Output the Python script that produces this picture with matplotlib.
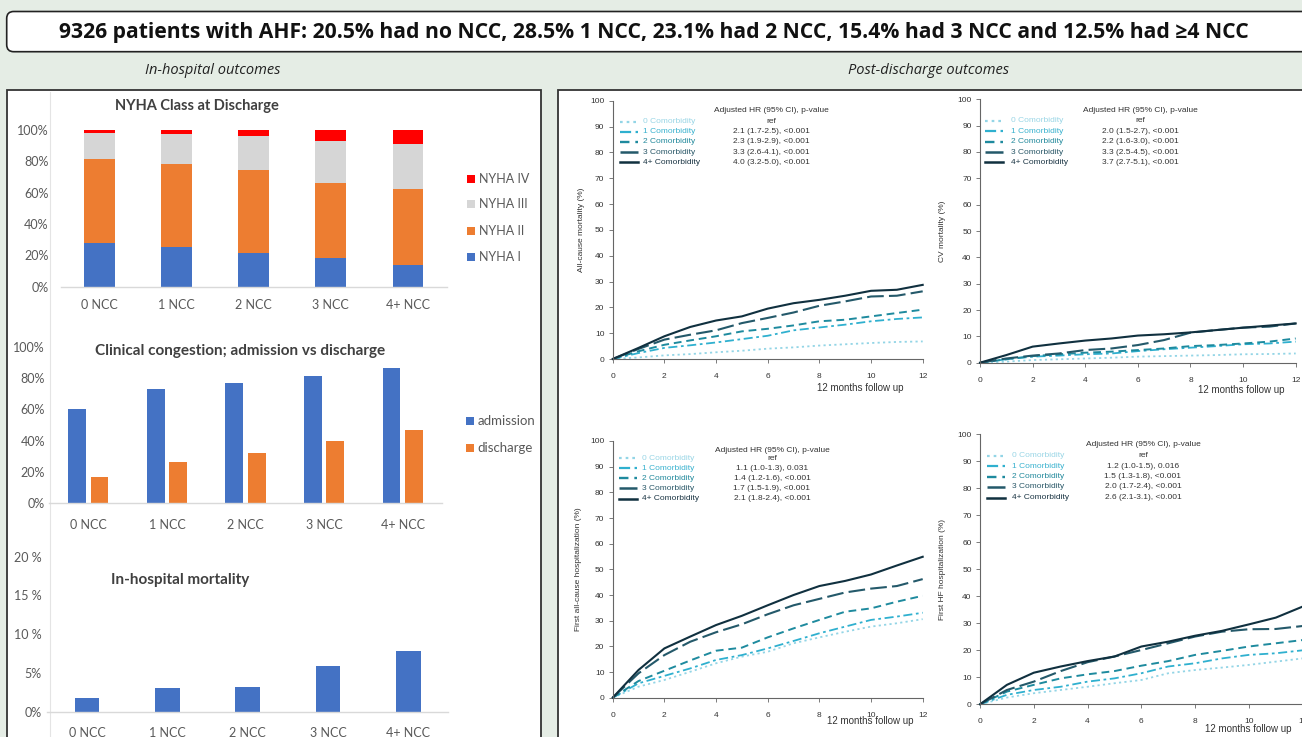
import numpy as np
import matplotlib
matplotlib.use('Agg')
import matplotlib.pyplot as plt
from matplotlib.patches import Rectangle, FancyBboxPatch
from matplotlib.lines import Line2D

W, H, DPI = 1302, 737, 100

# ------------------------------------------------------------------ data
title_text = ('9326 patients with AHF: 20.5% had no NCC, 28.5% 1 NCC, 23.1% had 2 NCC, '
              '15.4% had 3 NCC and 12.5% had \u22654 NCC')
ncc_labels = ['0 NCC', '1 NCC', '2 NCC', '3 NCC', '4+ NCC']

nyha_classes = ['NYHA I', 'NYHA II', 'NYHA III', 'NYHA IV']
nyha_I = [28.1, 25.1, 21.7, 18.1, 13.8]
nyha_II = [53.2, 53.0, 52.6, 48.3, 48.5]
nyha_III = [17.0, 19.3, 21.9, 26.8, 29.0]
nyha_IV = [1.7, 2.6, 3.8, 6.8, 8.7]

congestion_series = ['admission', 'discharge']
congestion_admission = [60.0, 72.8, 76.6, 81.1, 86.4]
congestion_discharge = [17.0, 26.4, 31.9, 40.0, 46.8]

inhosp_mortality = [1.8, 3.0, 3.2, 5.9, 7.8]

pct_ticks = [0, 20, 40, 60, 80, 100]
pct_ticklabels = ['0%', '20%', '40%', '60%', '80%', '100%']
mort_ticks = [0, 5, 10, 15, 20]
mort_ticklabels = ['0%', '5%', '10 %', '15 %', '20 %']

months = [0, 1, 2, 3, 4, 5, 6, 7, 8, 9, 10, 11, 12]
comorbidity_groups = ['0 Comorbidity', '1 Comorbidity', '2 Comorbidity',
                      '3 Comorbidity', '4+ Comorbidity']

# all-cause mortality (%)
acm_0 = [0, 0.6, 1.4, 1.9, 2.6, 3.2, 4.0, 4.5, 5.2, 5.7, 6.2, 6.6, 6.8]
acm_1 = [0, 2.3, 4.3, 5.3, 6.4, 7.7, 9.0, 11.1, 12.2, 13.3, 14.6, 15.5, 16.1]
acm_2 = [0, 3.0, 5.5, 7.2, 8.8, 10.7, 11.7, 13.0, 14.6, 15.2, 16.5, 17.8, 19.1]
acm_3 = [0, 3.9, 7.5, 9.4, 11.1, 13.9, 15.9, 18.0, 20.6, 22.3, 24.2, 24.5, 26.2]
acm_4 = [0, 4.3, 8.8, 12.4, 14.9, 16.5, 19.5, 21.6, 22.9, 24.5, 26.4, 26.8, 28.7]
acm_hr = ['ref', '2.1 (1.7-2.5), <0.001', '2.3 (1.9-2.9), <0.001',
          '3.3 (2.6-4.1), <0.001', '4.0 (3.2-5.0), <0.001']

# CV mortality (%)
cvm_0 = [0, 0.4, 1.0, 1.3, 1.6, 1.9, 2.3, 2.5, 2.7, 2.9, 3.2, 3.3, 3.5]
cvm_1 = [0, 1.3, 2.3, 2.7, 3.2, 3.5, 4.4, 5.1, 5.7, 6.3, 7.0, 7.3, 8.0]
cvm_2 = [0, 1.3, 2.5, 3.2, 3.8, 4.2, 4.8, 5.4, 6.3, 6.7, 7.3, 8.0, 9.2]
cvm_3 = [0, 1.6, 2.7, 3.5, 4.8, 5.4, 6.7, 8.6, 11.4, 12.4, 13.3, 13.7, 14.9]
cvm_4 = [0, 2.9, 6.1, 7.3, 8.4, 9.2, 10.3, 10.8, 11.5, 12.4, 13.3, 14.1, 14.9]
cvm_hr = ['ref', '2.0 (1.5-2.7), <0.001', '2.2 (1.6-3.0), <0.001',
          '3.3 (2.5-4.5), <0.001', '3.7 (2.7-5.1), <0.001']

# first all-cause hospitalization (%)
ach_0 = [0, 4.3, 6.9, 10.1, 13.4, 16.0, 17.9, 21.2, 23.5, 25.7, 27.7, 29.0, 30.6]
ach_1 = [0, 5.6, 8.5, 11.4, 14.7, 16.6, 19.2, 22.1, 25.1, 27.7, 30.3, 31.6, 33.1]
ach_2 = [0, 6.5, 10.5, 14.5, 18.3, 19.5, 23.5, 27.0, 30.3, 33.5, 34.8, 37.4, 39.7]
ach_3 = [0, 9.5, 16.6, 21.8, 25.5, 28.6, 32.5, 36.0, 38.5, 41.0, 42.5, 43.5, 46.2]
ach_4 = [0, 10.8, 19.2, 23.8, 28.3, 31.9, 36.0, 40.0, 43.5, 45.5, 48.0, 51.5, 54.9]
ach_hr = ['ref', '1.1 (1.0-1.3), 0.031', '1.4 (1.2-1.6), <0.001',
          '1.7 (1.5-1.9), <0.001', '2.1 (1.8-2.4), <0.001']

# first HF hospitalization (%)
hfh_0 = [0, 2.5, 4.1, 5.3, 6.5, 7.8, 9.0, 11.5, 12.7, 13.6, 14.6, 15.8, 17.0]
hfh_1 = [0, 3.5, 5.3, 6.5, 8.4, 9.6, 11.5, 14.0, 15.2, 17.0, 18.3, 18.9, 20.0]
hfh_2 = [0, 4.7, 7.2, 9.6, 11.1, 12.3, 14.3, 16.0, 18.3, 19.8, 21.4, 22.6, 23.8]
hfh_3 = [0, 5.3, 8.4, 12.3, 15.6, 17.7, 20.1, 22.6, 25.1, 26.9, 27.8, 27.9, 29.0]
hfh_4 = [0, 7.2, 11.7, 14.0, 16.0, 17.7, 21.4, 23.2, 25.4, 27.2, 29.6, 32.1, 36.2]
hfh_hr = ['ref', '1.2 (1.0-1.5), 0.016', '1.5 (1.3-1.8), <0.001',
          '2.0 (1.7-2.4), <0.001', '2.6 (2.1-3.1), <0.001']

# ------------------------------------------------------------------ style
BG = '#e5ede5'
XL_BLUE, XL_ORANGE, XL_GRAY, XL_RED = '#4472C4', '#ED7D31', '#D6D6D6', '#FF0000'
XL_TEXT = '#595959'
XL_TITLE = '#404040'
LFONT = 'Lato'
KFONT = 'Liberation Sans'

km_colors = ['#93d5e6', '#2fb0cf', '#1e8a9e', '#24596a', '#10303f']
km_text_colors = ['#9ad6e6', '#3ab2cf', '#22899c', '#2a5868', '#1b3544']
km_styles = [(0, (1.2, 1.8)), (0, (5, 2, 1.5, 2)), (0, (4, 2.5)), (0, (8, 2.5)), '-']
km_lw = [1.3, 1.3, 1.4, 1.5, 1.5]

fig = plt.figure(figsize=(W / DPI, H / DPI), dpi=DPI)
fig.patch.set_facecolor(BG)


def fbox(x0, y0, x1, y1):
    return [x0 / W, 1 - y1 / H, (x1 - x0) / W, (y1 - y0) / H]


def ftext(x, y, s, **kw):
    return fig.text(x / W, 1 - y / H, s, **kw)


def fline(x0, x1, y, **kw):
    fig.add_artist(Line2D([x0 / W, x1 / W], [1 - y / H, 1 - y / H], **kw))


def fsquare(x0, y0, size, color):
    fig.add_artist(Rectangle((x0 / W, 1 - (y0 + size) / H), size / W, size / H,
                             transform=fig.transFigure, facecolor=color,
                             edgecolor='none'))


# ------------------------------------------------------------------ frames
fig.add_artist(FancyBboxPatch((6.7 / DPI, (H - 51.7) / DPI), (1330 - 6.7) / DPI, 40.2 / DPI,
                              boxstyle='round,pad=0,rounding_size=0.07',
                              transform=fig.dpi_scale_trans, facecolor='white',
                              edgecolor='#222222', linewidth=1.2, zorder=-10))
fig.add_artist(Rectangle((6.5 / W, -0.05), (541 - 6.5) / W, 1 - 90 / H + 0.05,
                         transform=fig.transFigure, facecolor='white',
                         edgecolor='#333333', linewidth=1.3, zorder=-10))
fig.add_artist(Rectangle((558 / W, -0.05), (1330 - 558) / W, 1 - 90 / H + 0.05,
                         transform=fig.transFigure, facecolor='white',
                         edgecolor='#333333', linewidth=1.3, zorder=-10))
fig.add_artist(Line2D([50 / W, 50 / W], [0, 1 - 92 / H], color='#e4e4e4', lw=0.8,
                      zorder=-5))

t = ftext(654, 32.5, title_text, ha='center', va='center', fontsize=14.5,
          fontweight='bold', family='Open Sans', color='#111111')
fig.canvas.draw()
wpx = t.get_window_extent().width
t.set_fontsize(14.5 * 1188.0 / wpx)

ftext(213, 71, 'In-hospital outcomes', ha='center', va='center', fontsize=10.5,
      style='italic', family='Open Sans', color='#222222')
ftext(928, 71, 'Post-discharge outcomes', ha='center', va='center', fontsize=10.5,
      style='italic', family='Open Sans', color='#222222')


# ------------------------------------------------------------------ left charts
def excel_axes(box, ylim, ticks, ticklabels, ypad, xpad):
    ax = fig.add_axes(fbox(*box))
    ax.set_facecolor('none')
    ax.set_xlim(-0.5, 4.5)
    ax.set_ylim(*ylim)
    for s in ['top', 'right', 'left']:
        ax.spines[s].set_visible(False)
    ax.spines['bottom'].set_color('#d9d9d9')
    ax.spines['bottom'].set_linewidth(1.0)
    ax.set_yticks(ticks)
    ax.set_yticklabels(ticklabels)
    ax.set_xticks(range(5))
    ax.set_xticklabels(ncc_labels)
    ax.tick_params(axis='y', length=0, pad=ypad, labelsize=9, labelcolor=XL_TEXT)
    ax.tick_params(axis='x', length=0, pad=xpad, labelsize=9, labelcolor=XL_TEXT)
    for lb in ax.get_xticklabels() + ax.get_yticklabels():
        lb.set_family(LFONT)
    return ax


x = np.arange(5)
# NYHA class at discharge (stacked)
ax1 = excel_axes((60.8, 130.0, 446.6, 286.7), (0, 100), pct_ticks, pct_ticklabels, 9, 9)
bottoms = np.zeros(5)
for vals, col in zip([nyha_I, nyha_II, nyha_III, nyha_IV],
                     [XL_BLUE, XL_ORANGE, XL_GRAY, XL_RED]):
    ax1.bar(x, vals, width=0.4, bottom=bottoms, color=col)
    bottoms = bottoms + np.array(vals)
ftext(197, 106, 'NYHA Class at Discharge', ha='center', va='center', fontsize=10.5,
      fontweight='bold', family=LFONT, color=XL_TITLE)
for name, col, yy in zip(nyha_classes[::-1], [XL_RED, XL_GRAY, XL_ORANGE, XL_BLUE],
                         [179.3, 204.3, 230.7, 256.7]):
    fsquare(467, yy - 4, 8, col)
    ftext(479, yy, name, ha='left', va='center', fontsize=9, family=LFONT, color=XL_TEXT)

# Clinical congestion
ax2 = excel_axes((49.0, 346.7, 442.0, 503.3), (0, 100), pct_ticks, pct_ticklabels, 3, 11)
ax2.bar(x - 0.143, congestion_admission, width=0.227, color=XL_BLUE)
ax2.bar(x + 0.143, congestion_discharge, width=0.227, color=XL_ORANGE)
ftext(240, 351, 'Clinical congestion; admission vs discharge', ha='center', va='center',
      fontsize=11, fontweight='bold', family=LFONT, color=XL_TITLE)
for name, col, yy in zip(congestion_series, [XL_BLUE, XL_ORANGE], [421.0, 448.0]):
    fsquare(466.5, yy - 4, 8, col)
    ftext(477.5, yy, name, ha='left', va='center', fontsize=9.5, family=LFONT, color=XL_TEXT)

# In-hospital mortality
ax3 = excel_axes((46.9, 556.7, 448.4, 711.7), (0, 20), mort_ticks, mort_ticklabels, 4, 11)
ax3.bar(x, inhosp_mortality, width=0.31, color=XL_BLUE)
ftext(180, 580, 'In-hospital mortality', ha='center', va='center', fontsize=11,
      fontweight='bold', family=LFONT, color=XL_TITLE)


# ------------------------------------------------------------------ KM panels
def km_panel(box, curves, hr, ylabel, ylabel_x, hdr_y, row_ys, line_x0, text_x, hr_x,
             xlab_xy):
    x0, y0, x1, y1 = box
    ax = fig.add_axes(fbox(*box))
    ax.set_facecolor('none')
    for i in range(5):
        ax.plot(months, curves[i], color=km_colors[i], linestyle=km_styles[i],
                lw=km_lw[i], solid_joinstyle='round', clip_on=False)
    ax.set_xlim(0, 12)
    ax.set_ylim(0, 100)
    ax.set_xticks(range(0, 13, 2))
    ax.set_yticks(range(0, 101, 10))
    for s in ['top', 'right']:
        ax.spines[s].set_visible(False)
    for s in ['left', 'bottom']:
        ax.spines[s].set_color('#666666')
        ax.spines[s].set_linewidth(0.8)
    ax.tick_params(length=3, width=0.6, color='#666666', labelsize=6,
                   labelcolor='#333333', pad=3)
    ax.tick_params(axis='x', pad=7)
    for lb in ax.get_xticklabels() + ax.get_yticklabels():
        lb.set_family(KFONT)
    ftext(ylabel_x, (y0 + y1) / 2, ylabel, rotation=90, ha='center', va='center',
          fontsize=6, family=KFONT, color='#333333')
    ftext(xlab_xy[0], xlab_xy[1], '12 months follow up', ha='center', va='center',
          fontsize=7, family=KFONT, color='#333333')
    ftext(hr_x, hdr_y, 'Adjusted HR (95% CI), p-value', ha='center', va='center',
          fontsize=6, family=KFONT, color='#333333')
    for i in range(5):
        yy = row_ys[i]
        fline(line_x0, line_x0 + 18, yy, color=km_colors[i], linestyle=km_styles[i],
              lw=km_lw[i] + 0.3)
        ftext(text_x, yy, comorbidity_groups[i], ha='left', va='center', fontsize=6,
              family=KFONT, color=km_text_colors[i])
        ftext(hr_x, yy, hr[i], ha='center', va='center', fontsize=6, family=KFONT,
              color='#333333')
    return ax


km_panel((612.7, 100.7, 922.7, 359.0), [acm_0, acm_1, acm_2, acm_3, acm_4], acm_hr,
         'All-cause mortality (%)', 581.7, 110.7, [121.7, 131.7, 141.7, 152.0, 162.0],
         620, 643.3, 771, (860, 388))
km_panel((980.0, 99.3, 1295.7, 362.7), [cvm_0, cvm_1, cvm_2, cvm_3, cvm_4], cvm_hr,
         'CV mortality (%)', 943, 110.0, [121.0, 131.3, 141.7, 152.0, 162.0],
         985, 1011, 1140, (1241, 390))
km_panel((612.7, 441.0, 922.7, 697.7), [ach_0, ach_1, ach_2, ach_3, ach_4], ach_hr,
         'First all-cause hospitalization (%)', 578, 450.0,
         [458.3, 468.3, 478.3, 488.3, 499.0], 619, 641.7, 772, (870, 721))
km_panel((980.0, 434.3, 1302.7, 704.3), [hfh_0, hfh_1, hfh_2, hfh_3, hfh_4], hfh_hr,
         'First HF hospitalization (%)', 943, 444.3,
         [455.7, 466.3, 476.7, 487.0, 497.7], 987, 1011.7, 1143, (1248, 729))

fig.savefig('out.png', dpi=DPI, facecolor=fig.get_facecolor())
